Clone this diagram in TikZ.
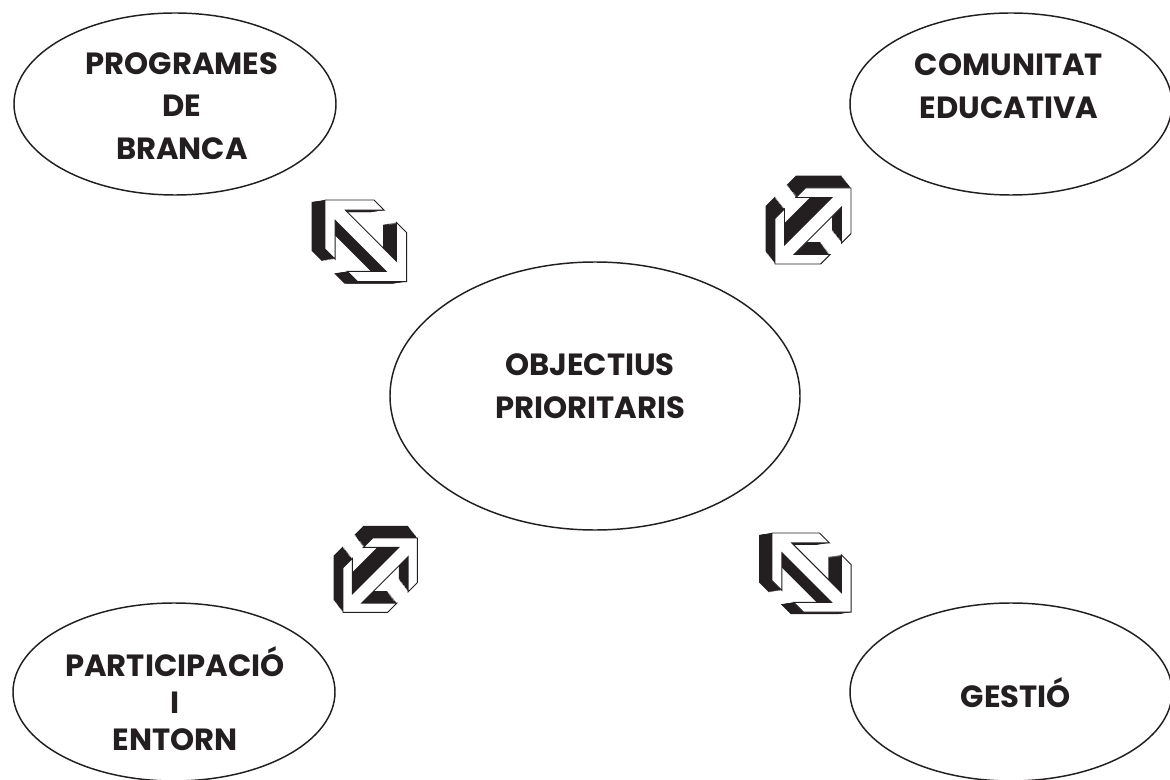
\documentclass[tikz,border=0pt]{standalone}
\usepackage{fontspec}
\setmainfont{Poppins}
\usetikzlibrary{shapes.geometric}
\definecolor{ink}{HTML}{231F20}
\tikzset{
  ell/.style={ellipse, draw=ink, line width=1.1pt, inner sep=0pt, fill=white},
  lbl/.style={align=center, text=ink, font=\fontsize{23}{32}\selectfont\bfseries},
  bspoly/.style={insert path={(0,0) -- (48,0) -- (58,10) -- (20,10) -- (70,60) -- (70,22) -- (80,32) -- (80,80) -- (32,80) -- (22,70) -- (60,70) -- (10,20) -- (10,58) -- (0,48) -- cycle}},
  fspoly/.style={insert path={(80,0) -- (32,0) -- (22,10) -- (60,10) -- (10,60) -- (10,22) -- (0,32) -- (0,80) -- (48,80) -- (58,70) -- (20,70) -- (70,20) -- (70,58) -- (80,48) -- cycle}},
  bsarrow/.pic={
    \foreach \k in {1,...,13}{\fill[ink, shift={(-\k,0.15*\k)}, bspoly];}
    \filldraw[fill=white, draw=ink, line width=0.7pt, line join=miter, bspoly];
  },
  fsarrow/.pic={
    \foreach \k in {1,...,13}{\fill[ink, shift={(-0.77*\k,-\k)}, fspoly];}
    \filldraw[fill=white, draw=ink, line width=0.7pt, line join=miter, fspoly];
  }
}
\begin{document}
\begin{tikzpicture}[x=0.75pt,y=-0.75pt]
\useasboundingbox (0,0) rectangle (1170,780);
\fill[white] (0,0) rectangle (1170,780);
\clip (0,0) rectangle (1170,780);
% ellipses
\node[ell, minimum width=322*0.75pt, minimum height=182*0.75pt] (pb) at (175,104) {};
\node[ell, minimum width=322*0.75pt, minimum height=182*0.75pt] (ce) at (1011,104) {};
\node[ell, minimum width=410*0.75pt, minimum height=268*0.75pt] (obj) at (595,396) {};
\node[ell, minimum width=322*0.75pt, minimum height=178*0.75pt] (pe) at (174,692) {};
\node[ell, minimum width=322*0.75pt, minimum height=178*0.75pt] (ge) at (1011,692) {};
% labels
\node[lbl] (pbt) at (182,106) {PROGRAMES\\DE\\BRANCA};
\node[lbl] (cet) at (1009,86.5) {COMUNITAT\\EDUCATIVA};
\node[lbl] (objt) at (590,386) {OBJECTIUS\\PRIORITARIS};
\node[lbl, font=\fontsize{23}{28}\selectfont\bfseries] (pet) at (175,698.5) {PARTICIPACIÓ\\I\\ENTORN};
\node[lbl] (get) at (1016,693) {GESTIÓ};
% double arrows
\pic[scale=1.02] at (325,200) {bsarrow};
\pic[scale=0.95] at (775,188) {fsarrow};
\pic[scale=0.93] at (343,538) {fsarrow};
\pic[scale=0.99] at (772,533) {bsarrow};
\end{tikzpicture}
\end{document}
